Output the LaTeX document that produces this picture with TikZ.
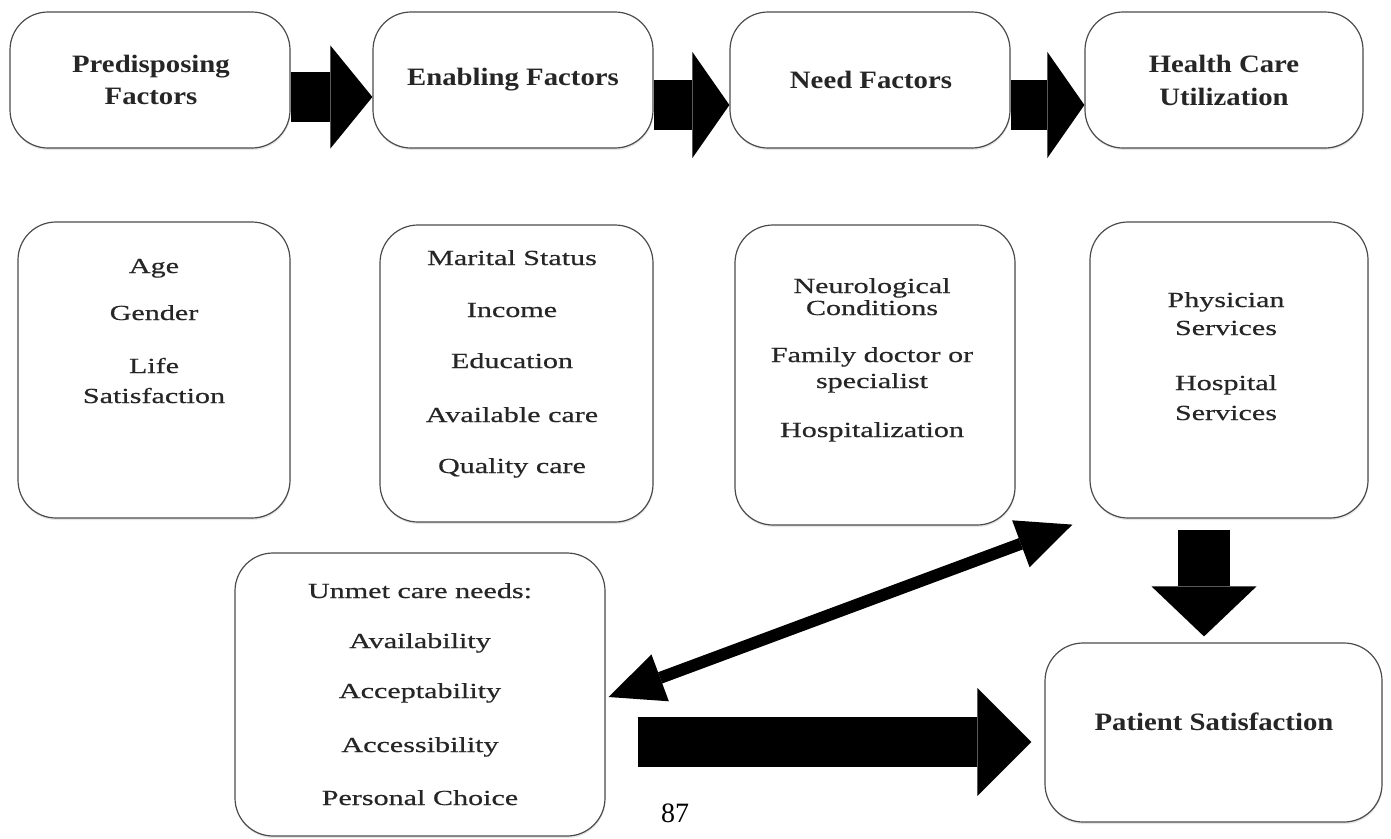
\documentclass[tikz,border=0pt]{standalone}
\usepackage{fontspec}
\setmainfont{Liberation Serif}
\newfontfamily\headfont{Liberation Serif}[FakeStretch=1.15]
\newfontfamily\listfont{Liberation Serif}[FakeStretch=1.4, FakeBold=0.5]
\usetikzlibrary{arrows.meta, shadows}

\tikzset{
  factor/.style={draw=black!70, line width=1.2pt, fill=white, rounded corners=38pt,
    inner sep=0pt, drop shadow={shadow xshift=0.5pt, shadow yshift=-2pt, opacity=0.2}},
  headtxt/.style={anchor=base, inner sep=0pt, text=black!85,
    font=\headfont\bfseries\fontsize{25}{30}\selectfont},
  listtxt/.style={anchor=base, inner sep=0pt, text=black!85,
    font=\listfont\fontsize{21.5}{25}\selectfont},
  blockarrow/.style={draw=black, line width=#1},
}

\begin{document}
\begin{tikzpicture}[x=1pt, y=-1pt]
  \useasboundingbox (0,0) rectangle (1391,838);

  % top row
  \node[factor, minimum width=280pt, minimum height=136pt] (pre) at (150,80) {};
  \node[factor, minimum width=280pt, minimum height=136pt] (ena) at (513,80) {};
  \node[factor, minimum width=280pt, minimum height=136pt] (nee) at (870,80) {};
  \node[factor, minimum width=278pt, minimum height=136pt] (hcu) at (1224,80) {};

  % second row
  \node[factor, minimum width=272pt, minimum height=296pt] (preL) at (154,370) {};
  \node[factor, minimum width=273pt, minimum height=297pt] (enaL) at (516.5,373.5) {};
  \node[factor, minimum width=280pt, minimum height=300pt] (neeL) at (875,375) {};
  \node[factor, minimum width=278pt, minimum height=296pt] (hcuL) at (1229,370) {};

  % bottom row
  \node[factor, minimum width=370pt, minimum height=283pt] (unmet) at (420,694.5) {};
  \node[factor, minimum width=337pt, minimum height=179pt] (sat) at (1213.5,732.5) {};

  % titles
  \node[headtxt] (pre-1) at (151,72) {Predisposing};
  \node[headtxt] (pre-2) at (151,104) {Factors};
  \node[headtxt] (ena-1) at (513,85) {Enabling Factors};
  \node[headtxt] (nee-1) at (871,88) {Need Factors};
  \node[headtxt] (hcu-1) at (1224,72) {Health Care};
  \node[headtxt] (hcu-2) at (1224,105) {Utilization};
  \node[headtxt] (sat-1) at (1214,730) {Patient Satisfaction};

  % lists
  \foreach \txt/\yy [count=\i] in {Age/273, Gender/320, Life/373, Satisfaction/403}
    \node[listtxt] (preL-\i) at (154,\yy) {\txt};
  \foreach \txt/\yy [count=\i] in {Marital Status/265, Income/317, Education/368,
      Available care/422, Quality care/473}
    \node[listtxt] (enaL-\i) at (512,\yy) {\txt};
  \foreach \txt/\yy [count=\i] in {Neurological/293, Conditions/315,
      Family doctor or/362, specialist/388, Hospitalization/437}
    \node[listtxt] (neeL-\i) at (872,\yy) {\txt};
  \foreach \txt/\yy [count=\i] in {Physician/307, Services/335, Hospital/390, Services/420}
    \node[listtxt] (hcuL-\i) at (1226,\yy) {\txt};
  \foreach \txt/\yy [count=\i] in {Unmet care needs:/598, Availability/648,
      Acceptability/698, Accessibility/752, Personal Choice/805}
    \node[listtxt] (unmet-\i) at (420,\yy) {\txt};

  % block arrows
  \draw[blockarrow=50pt, -{Triangle[length=42pt, width=103pt, line width=0pt]}]
    ([yshift=-17pt]pre.east) -- ([yshift=-17pt]ena.west);
  \draw[blockarrow=50pt, -{Triangle[length=37pt, width=106pt, line width=0pt]}]
    ([yshift=-25pt]ena.east) -- ([yshift=-25pt]nee.west);
  \draw[blockarrow=50pt, -{Triangle[length=37pt, width=106pt, line width=0pt]}]
    ([yshift=-25pt]nee.east) -- ([yshift=-25pt]hcu.west);
  \draw[blockarrow=52pt, -{Triangle[length=50pt, width=105pt, line width=0pt]}]
    ([xshift=-25pt, yshift=-11pt]hcuL.south) -- ([xshift=-9.5pt, yshift=6pt]sat.north);
  \draw[blockarrow=50pt, -{Triangle[length=54pt, width=108pt, line width=0pt]}]
    ([xshift=32pt, yshift=-47.5pt]unmet.east) -- ([xshift=-13pt, yshift=-9.5pt]sat.west);
  \draw[blockarrow=12pt, {Triangle[length=55pt, width=50pt, line width=0pt]}-{Triangle[length=55pt, width=50pt, line width=0pt]}]
    ([xshift=3pt, yshift=-2.5pt]unmet.east) -- ([xshift=-17pt, yshift=-6pt]hcuL.south west);

  % page number
  \node[inner sep=0pt, font=\fontsize{28}{30}\selectfont] (pg) at (675,813) {87};
\end{tikzpicture}
\end{document}
